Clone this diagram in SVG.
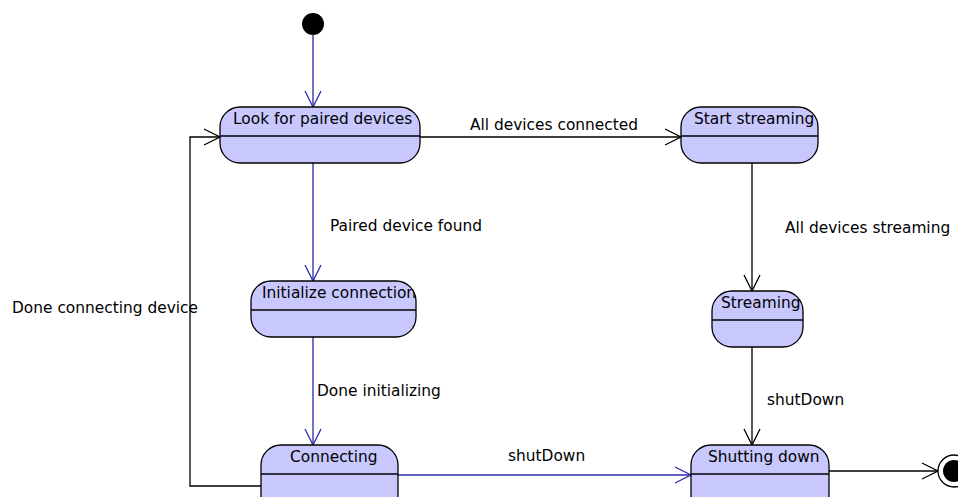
<svg xmlns="http://www.w3.org/2000/svg" width="958" height="497" viewBox="0 0 958 497">
  <defs>
    <marker id="arrBlue" markerWidth="20" markerHeight="20" refX="18" refY="10" orient="auto" markerUnits="userSpaceOnUse">
      <path d="M2,2 L18,10 L2,18" fill="none" stroke="#2a2aa8" stroke-width="1.3"/>
    </marker>
    <marker id="arrBlack" markerWidth="20" markerHeight="20" refX="18" refY="10" orient="auto" markerUnits="userSpaceOnUse">
      <path d="M2,2 L18,10 L2,18" fill="none" stroke="#000" stroke-width="1.3"/>
    </marker>
    <!-- state names are clipped to the inside of their rounded box -->
    <clipPath id="clipStart"><rect x="681" y="107" width="137" height="56" rx="20" ry="20"/></clipPath>
    <clipPath id="clipInit"><rect x="251" y="281" width="165" height="56" rx="20" ry="20"/></clipPath>
    <clipPath id="clipStream"><rect x="712" y="291" width="91" height="56" rx="20" ry="20"/></clipPath>
  </defs>
  <style>
    .state rect { fill: #c8c8ff; stroke: #000; stroke-width: 1.3; }
    .state line { stroke: #000; stroke-width: 1.3; }
    text { font-family: "DejaVu Sans", sans-serif; font-size: 15.4px; fill: #000; }
    .blue { stroke: #2a2aa8; stroke-width: 1.3; fill: none; }
    .black { stroke: #000; stroke-width: 1.3; fill: none; }
  </style>
  <rect width="958" height="497" fill="#fff"/>

  <!-- transitions -->
  <g id="connectors">
    <line class="blue" x1="313" y1="35" x2="313" y2="107" marker-end="url(#arrBlue)"/>
    <line class="blue" x1="313" y1="163" x2="313" y2="281" marker-end="url(#arrBlue)"/>
    <text x="330" y="231">Paired device found</text>
    <line class="blue" x1="313" y1="337" x2="313" y2="445" marker-end="url(#arrBlue)"/>
    <text x="317" y="396">Done initializing</text>
    <polyline class="black" points="261,486 190,486 190,137 220,137" marker-end="url(#arrBlack)"/>
    <text x="12" y="313">Done connecting device</text>
    <line class="black" x1="420" y1="137" x2="681" y2="137" marker-end="url(#arrBlack)"/>
    <text x="470" y="130">All devices connected</text>
    <line class="black" x1="752" y1="163" x2="752" y2="291" marker-end="url(#arrBlack)"/>
    <text x="785" y="233">All devices streaming</text>
    <line class="black" x1="752" y1="347" x2="752" y2="445" marker-end="url(#arrBlack)"/>
    <text x="767" y="405">shutDown</text>
    <line class="blue" x1="398" y1="475" x2="691" y2="475" marker-end="url(#arrBlue)"/>
    <text x="508" y="461">shutDown</text>
    <line class="black" x1="829" y1="471" x2="938" y2="471" marker-end="url(#arrBlack)"/>
  </g>

  <!-- initial pseudo-state -->
  <g id="initial">
    <circle cx="313" cy="24" r="11" fill="#000"/>
  </g>

  <g id="look" class="state">
    <rect x="220" y="107" width="200" height="56" rx="20" ry="20"/>
    <line x1="220" y1="136" x2="420" y2="136"/>
    <text x="233" y="124">Look for paired devices</text>
  </g>

  <g id="startStreaming" class="state">
    <rect x="681" y="107" width="137" height="56" rx="20" ry="20"/>
    <line x1="681" y1="136" x2="818" y2="136"/>
    <text x="694" y="124" clip-path="url(#clipStart)">Start streaming</text>
  </g>

  <g id="initialize" class="state">
    <rect x="251" y="281" width="165" height="56" rx="20" ry="20"/>
    <line x1="251" y1="310" x2="416" y2="310"/>
    <text x="262" y="298" clip-path="url(#clipInit)">Initialize connection</text>
  </g>

  <g id="streaming" class="state">
    <rect x="712" y="291" width="91" height="56" rx="20" ry="20"/>
    <line x1="712" y1="320" x2="803" y2="320"/>
    <text x="721" y="308" clip-path="url(#clipStream)">Streaming</text>
  </g>

  <g id="connecting" class="state">
    <rect x="261" y="445" width="137" height="70" rx="20" ry="20"/>
    <line x1="261" y1="474" x2="398" y2="474"/>
    <text x="290" y="462">Connecting</text>
  </g>

  <g id="shuttingDown" class="state">
    <rect x="691" y="445" width="138" height="70" rx="20" ry="20"/>
    <line x1="691" y1="474" x2="829" y2="474"/>
    <text x="708" y="462">Shutting down</text>
  </g>

  <!-- final state -->
  <g id="final">
    <circle cx="954" cy="471" r="16" fill="#fff" stroke="#000" stroke-width="1.3"/>
    <circle cx="954" cy="471" r="11" fill="#000"/>
  </g>
</svg>
